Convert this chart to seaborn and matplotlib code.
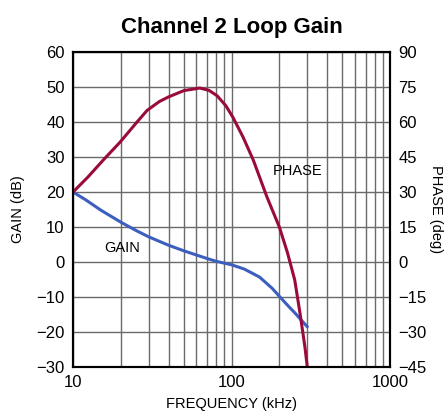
import matplotlib
matplotlib.use("Agg")
import matplotlib.pyplot as plt
import matplotlib.ticker as mticker
import pandas as pd
import seaborn as sns

# gain curve (left axis, dB)
gain_freq = [10, 12, 15, 20, 25, 30, 40, 50, 60, 70, 80, 100, 120, 150, 180, 200, 230, 250, 280, 300]
gain_db = [20, 17.8, 14.8, 11.4, 9.0, 7.2, 4.8, 3.2, 2.0, 1.0, 0.2, -0.8, -2.0, -4.3, -7.5, -9.8, -12.8, -14.5, -17.0, -18.5]

# phase curve (right axis, deg)
phase_freq = [10, 12.4, 15.5, 19.8, 25.3, 29.3, 35, 40, 50, 63, 72, 81, 92, 102, 118, 137, 167, 200, 225, 250, 270, 290, 300]
phase_deg = [30, 36.4, 43.7, 51.4, 60, 65, 68.8, 70.8, 73.5, 74.6, 73.6, 71.3, 67, 62, 53.6, 43.7, 27.9, 15, 4, -7.7, -22, -36.5, -45]

gain_df = pd.DataFrame({"freq": gain_freq, "val": gain_db})
phase_df = pd.DataFrame({"freq": phase_freq, "val": phase_deg})

sns.set_style("white")
plt.rcParams["font.family"] = ["Liberation Sans", "DejaVu Sans"]
plt.rcParams["text.color"] = "black"
plt.rcParams["axes.labelcolor"] = "black"
plt.rcParams["xtick.color"] = "black"
plt.rcParams["ytick.color"] = "black"
plt.rcParams["axes.unicode_minus"] = True

fig = plt.figure(figsize=(4.48, 4.17), dpi=100)
ax = fig.add_axes([0.163, 0.12, 0.708, 0.755])
ax2 = ax.twinx()

grid_col = "#6a6a6a"
ax.set_xscale("log")
ax.set_xlim(10, 1000)
ax.set_ylim(-30, 60)
ax.set_yticks(range(-30, 61, 10))
ax.xaxis.set_major_locator(mticker.FixedLocator([10, 100, 1000]))
ax.xaxis.set_major_formatter(mticker.FormatStrFormatter("%d"))
ax.xaxis.set_minor_locator(mticker.LogLocator(base=10, subs=range(2, 10)))
ax.xaxis.set_minor_formatter(mticker.NullFormatter())
ax.grid(True, which="both", axis="x", color=grid_col, lw=1.0)
ax.grid(True, which="major", axis="y", color=grid_col, lw=1.0)
ax.set_axisbelow(True)

sns.lineplot(data=gain_df, x="freq", y="val", ax=ax, color="#3c5fbf", lw=2.2)
sns.lineplot(data=phase_df, x="freq", y="val", ax=ax2, color="#9a0b3c", lw=2.2)

ax2.set_ylim(-45, 90)
ax2.set_yticks(range(-45, 91, 15))
ax2.grid(False)

for a in (ax, ax2):
    a.tick_params(which="both", length=0, labelsize=12, pad=6)
    for s in a.spines.values():
        s.set_color("black")
        s.set_linewidth(1.5)

ax.set_xlabel("FREQUENCY (kHz)", fontsize=10.5, labelpad=5)
ax.set_ylabel("GAIN (dB)", fontsize=10.5, labelpad=8)
ax2.set_ylabel("PHASE (deg)", fontsize=10.5, rotation=270, labelpad=12)
ax.set_title("Channel 2 Loop Gain", fontsize=16, fontweight="bold", pad=14)

ax.text(183, 26, "PHASE", fontsize=10.5, va="center", ha="left")
ax.text(15.7, 4, "GAIN", fontsize=10.5, va="center", ha="left")

fig.savefig("out.png", dpi=100)
